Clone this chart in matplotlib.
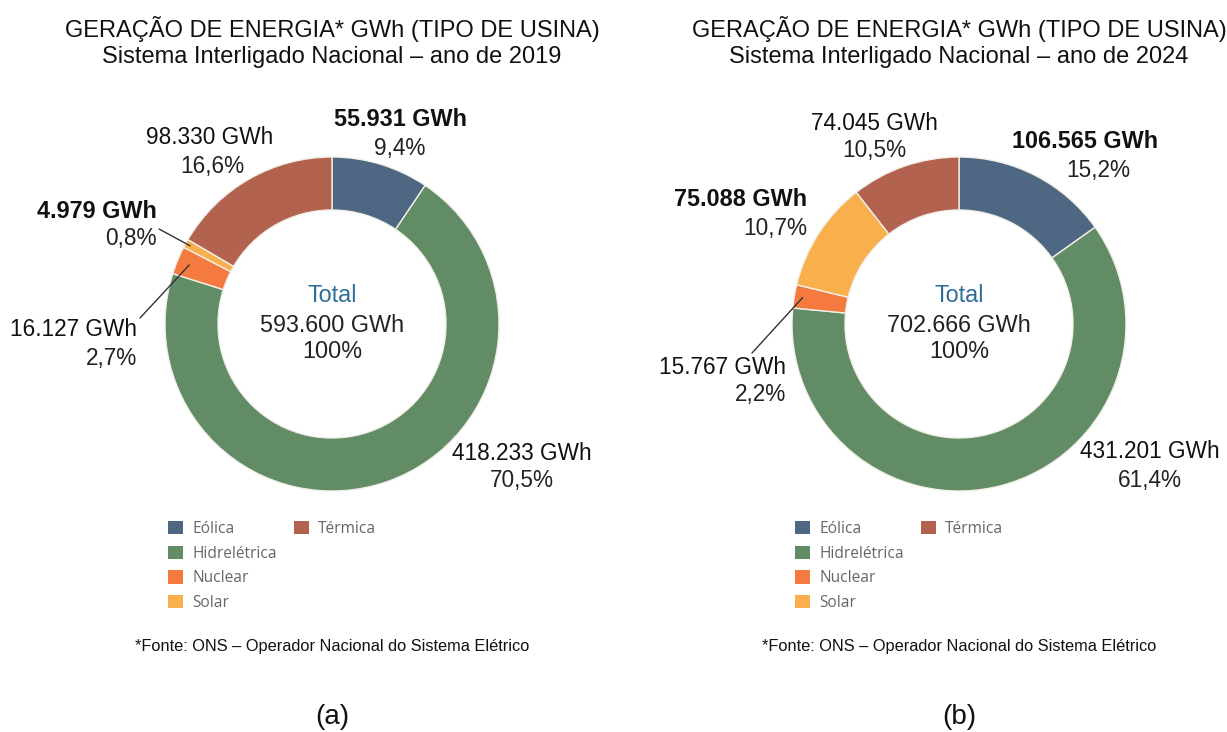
import matplotlib
matplotlib.use("Agg")
import matplotlib.pyplot as plt
from matplotlib.patches import Rectangle
import numpy as np

W, H = 1227, 732
plt.rcParams['font.family'] = ['Liberation Sans', 'DejaVu Sans']

categories = ["Eólica", "Hidrelétrica", "Nuclear", "Solar", "Térmica"]
colors = ["#4E6884", "#618C65", "#F47A40", "#F9B04C", "#B46250"]
values_2019 = [55931, 418233, 16127, 4979, 98330]
values_2024 = [106565, 431201, 15767, 75088, 74045]
pct_2019 = ["9,4%", "70,5%", "2,7%", "0,8%", "16,6%"]
pct_2024 = ["15,2%", "61,4%", "2,2%", "10,7%", "10,5%"]
gwh_2019 = ["55.931 GWh", "418.233 GWh", "16.127 GWh", "4.979 GWh", "98.330 GWh"]
gwh_2024 = ["106.565 GWh", "431.201 GWh", "15.767 GWh", "75.088 GWh", "74.045 GWh"]
total_2019 = "593.600 GWh"
total_2024 = "702.666 GWh"
years = ["2019", "2024"]
panel_tags = ["(a)", "(b)"]

fig = plt.figure(figsize=(W / 100, H / 100), dpi=100)

R_PX = 167
CY = 324
centers = [332, 959]
LFS = 16.3

layouts = [
    [(400, 120, 'center', True), (452, 453, 'left', False), (137, 330, 'right', False),
     (157, 211, 'right', True), (210, 138, 'center', False)],
    [(1085, 142, 'center', True), (1080, 452, 'left', False), (786, 367, 'right', False),
     (807, 200, 'right', True), (874, 123, 'center', False)],
]
second_line_x = [
    [400, 522, 137, 157, 212],
    [1098, 1150, 786, 807, 874],
]
second_ha = [
    ['center', 'center', 'right', 'right', 'center'],
    ['center', 'center', 'right', 'right', 'center'],
]
leaders = [
    {2: ((140, 318), 0.925), 3: ((159, 229), 0.97)},
    {2: ((752, 353), 0.95)},
]

datasets = [(values_2019, gwh_2019, pct_2019, total_2019),
            (values_2024, gwh_2024, pct_2024, total_2024)]

for p, (vals, gwh, pct, total) in enumerate(datasets):
    cx = centers[p]
    ax = fig.add_axes([(cx - R_PX) / W, 1 - (CY + R_PX) / H, 2 * R_PX / W, 2 * R_PX / H])
    wedges, _ = ax.pie(vals, colors=colors, startangle=90, counterclock=False,
                       radius=1.0, wedgeprops=dict(width=1 - 114 / 167, edgecolor='#F2EFE8', linewidth=1.0))
    ax.set_xlim(-1, 1)
    ax.set_ylim(-1, 1)
    ax.set_aspect('equal')
    ax.axis('off')

    def to_data(px, py):
        return ((px - cx) / R_PX, (CY - py) / R_PX)

    ax.text(*to_data(cx, 296), "Total", ha='center', va='center', fontsize=16.8, color='#2E6E96')
    ax.text(*to_data(cx, 325), total, ha='center', va='center', fontsize=16.8, color='#222222')
    ax.text(*to_data(cx, 352), "100%", ha='center', va='center', fontsize=16.8, color='#222222')

    for i in range(len(vals)):
        x, y, ha, bold = layouts[p][i]
        ax.text(*to_data(x, y), gwh[i], ha=ha, va='center', fontsize=LFS + (0.5 if bold else 0),
                fontweight='bold' if bold else 'normal', color='#111111', clip_on=False)
        ax.text(*to_data(second_line_x[p][i], y + 28), pct[i], ha=second_ha[p][i], va='center',
                fontsize=LFS, color='#222222', clip_on=False)

    total_v = sum(vals)
    cum = np.cumsum([0] + vals)
    for i, ((tx, ty), rf) in leaders[p].items():
        mid = (cum[i] + vals[i] / 2) / total_v
        ang = np.deg2rad(90 - 360 * mid)
        wx, wy = rf * np.cos(ang), rf * np.sin(ang)
        ax.annotate("", xy=(wx, wy), xytext=to_data(tx, ty),
                    arrowprops=dict(arrowstyle='-', color='#333333', lw=1.0, shrinkA=0, shrinkB=0),
                    annotation_clip=False)

    fig.text(cx / W, 1 - 29 / H, "GERAÇÃO DE ENERGIA* GWh (TIPO DE USINA)", ha='center', va='center',
             fontsize=17, color='#111111')
    fig.text(cx / W, 1 - 57 / H, f"Sistema Interligado Nacional – ano de {years[p]}", ha='center',
             va='center', fontsize=17, color='#111111')

    blank = Rectangle((0, 0), 1, 1, visible=False)
    handles = list(wedges[:4]) + [wedges[4], blank, blank, blank]
    labels = categories[:4] + [categories[4], "", "", ""]
    lx = cx - 164
    leg = fig.legend(handles, labels, ncol=2, loc='upper left',
                     bbox_to_anchor=(lx / W, 1 - 521 / H), frameon=False,
                     prop={'family': 'Open Sans', 'size': 11.2}, labelcolor='#666666',
                     handlelength=0.95, handleheight=0.95, handletextpad=0.6,
                     labelspacing=0.55, columnspacing=1.1, borderpad=0.0, borderaxespad=0.0)
    for h in leg.legend_handles:
        if h is not None:
            h.set_edgecolor('none')

    fig.text(cx / W, 1 - 647 / H, "*Fonte: ONS – Operador Nacional do Sistema Elétrico", ha='center',
             va='center', fontsize=11.8, color='#111111')
    fig.text(cx / W, 1 - 717 / H, panel_tags[p], ha='center', va='center', fontsize=20, color='#111111')

fig.savefig("out.png", dpi=100, facecolor='white')
